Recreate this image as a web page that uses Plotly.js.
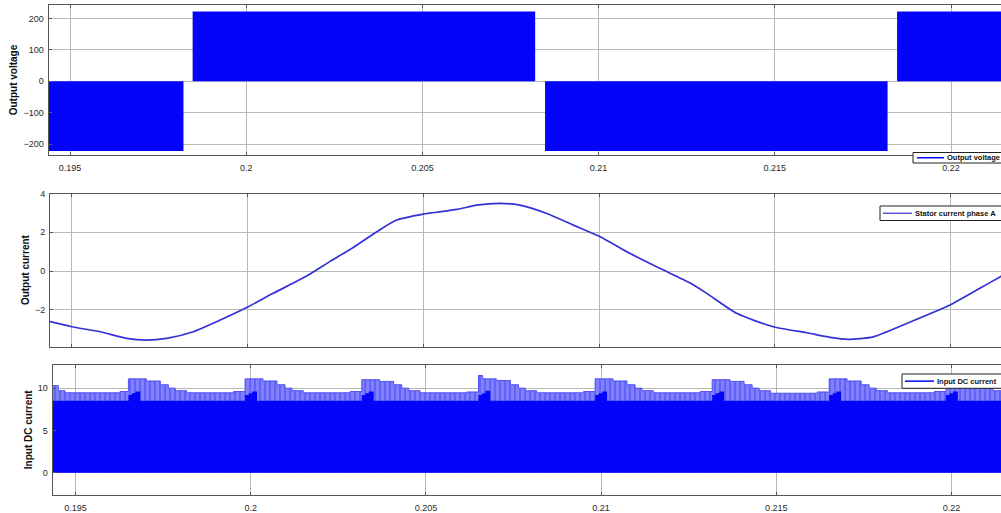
<!DOCTYPE html>
<html><head><meta charset="utf-8">
<script src="https://cdn.plot.ly/plotly-3.0.1.min.js"></script>
<style>html,body{margin:0;padding:0;overflow:hidden;background:#fff;width:1001px;height:513px}#chart{width:1008px;height:513px}</style>
</head><body><div id="chart"></div>
<script>
// ---------------- data ----------------
const seriesNames = ['Output voltage', 'Stator current phase A', 'Input DC current'];
const axisTitles = ['Output voltage', 'Output current', 'Input DC current'];
const timeTickVals = [0.195, 0.2, 0.205, 0.21, 0.215, 0.22];
const timeTickText = ['0.195', '0.2', '0.205', '0.21', '0.215', '0.22'];
const voltTickVals = [-200, -100, 0, 100, 200];
const currTickVals = [-2, 0, 2, 4];
const dcTickVals = [0, 5, 10];

// Output voltage: PWM blocks (level held until next time)
const voltTime  = [0.19439, 0.19822, 0.19848, 0.20820, 0.20848, 0.21820, 0.21847, 0.2217];
const voltValue = [-222, 0, 222, 0, -222, 0, 222, 222];

// Stator current phase A
const currTime = [0.19438, 0.19500, 0.19581, 0.19656, 0.19713, 0.19770, 0.19846, 0.19912,
  0.20002, 0.20073, 0.20168, 0.20235, 0.20301, 0.20368, 0.20424, 0.20500, 0.20595, 0.20652,
  0.20718, 0.20775, 0.20851, 0.20927, 0.21003, 0.21079, 0.21173, 0.21259, 0.21306, 0.21391,
  0.21495, 0.21590, 0.21657, 0.21709, 0.21780, 0.21875, 0.21998, 0.22083, 0.22140, 0.22163];
const currValue = [-2.61, -2.87, -3.13, -3.47, -3.56, -3.47, -3.13, -2.61,
  -1.84, -1.15, -0.26, 0.50, 1.22, 2.03, 2.63, 2.94, 3.18, 3.40,
  3.49, 3.40, 2.97, 2.37, 1.77, 0.99, 0.14, -0.62, -1.15, -2.18,
  -2.87, -3.18, -3.42, -3.52, -3.39, -2.70, -1.75, -0.89, -0.30, -0.05];

// Input DC current: upper envelope of the pulses (held until next time)
const dcPeakTime = [0.19434, 0.19451, 0.19470, 0.19627,
  0.19651, 0.19702, 0.19742, 0.19765, 0.19785, 0.19817, 0.19951,
  0.19984, 0.20035, 0.20075, 0.20098, 0.20118, 0.20150, 0.20284,
  0.20317, 0.20368, 0.20408, 0.20431, 0.20451, 0.20483, 0.20617,
  0.20650, 0.20662, 0.20701, 0.20741, 0.20764, 0.20784, 0.20816, 0.20950,
  0.20983, 0.21034, 0.21074, 0.21097, 0.21117, 0.21149, 0.21283,
  0.21317, 0.21368, 0.21408, 0.21431, 0.21451, 0.21483, 0.21617,
  0.21651, 0.21702, 0.21742, 0.21765, 0.21785, 0.21817, 0.21951,
  0.21984, 0.22035, 0.22075, 0.22098, 0.22118, 0.22150, 0.2217];
const dcPeakValue = [10.3, 9.7, 9.45, 9.6,
  11.1, 10.85, 10.4, 10.0, 9.7, 9.45, 9.6,
  11.1, 10.85, 10.4, 10.0, 9.7, 9.45, 9.6,
  11.0, 10.8, 10.4, 10.0, 9.7, 9.45, 9.55,
  11.5, 11.1, 10.9, 10.4, 10.0, 9.7, 9.45, 9.6,
  11.1, 10.85, 10.4, 10.0, 9.7, 9.45, 9.6,
  11.0, 10.8, 10.4, 10.0, 9.7, 9.4, 9.55,
  11.1, 10.85, 10.4, 10.0, 9.7, 9.45, 9.6,
  11.1, 10.85, 10.4, 10.0, 9.7, 9.45, 9.45];
// Input DC current: densely switched (solid) part
const dcBaseTime = [0.19434,
  0.19651, 0.19661, 0.19671, 0.19685,
  0.19984, 0.19994, 0.20004, 0.20018,
  0.20317, 0.20327, 0.20337, 0.20351,
  0.20650, 0.20660, 0.20670, 0.20684,
  0.20983, 0.20993, 0.21003, 0.21017,
  0.21317, 0.21327, 0.21337, 0.21351,
  0.21651, 0.21661, 0.21671, 0.21685,
  0.21984, 0.21994, 0.22004, 0.22018, 0.2217];
const dcBaseValue = [8.5,
  9.2, 9.4, 9.6, 8.5,
  9.2, 9.4, 9.6, 8.5,
  9.2, 9.4, 9.6, 8.5,
  9.2, 9.4, 9.7, 8.5,
  9.2, 9.4, 9.6, 8.5,
  9.2, 9.4, 9.6, 8.5,
  9.2, 9.4, 9.6, 8.5,
  9.2, 9.4, 9.6, 8.5, 8.5];

// ---------------- drawing ----------------
const W = 1008, H = 513, ML = 48;
const PX = x => (x - ML) / (W - ML);
const PY = y => 1 - y / H;

const BLUE = 'rgb(4,4,250)';
const traces = [
  { x: voltTime, y: voltValue, xaxis: 'x', yaxis: 'y', name: seriesNames[0], type: 'scatter',
    mode: 'lines', line: { shape: 'hv', width: 0, color: BLUE }, fill: 'tozeroy', fillcolor: BLUE,
    showlegend: false, hoverinfo: 'skip' },
  { x: currTime, y: currValue, xaxis: 'x2', yaxis: 'y2', name: seriesNames[1], type: 'scatter',
    mode: 'lines', line: { shape: 'spline', smoothing: 0.6, width: 1.7, color: 'rgb(50,50,215)' },
    showlegend: false },
  { x: dcPeakTime, y: dcPeakValue, xaxis: 'x3', yaxis: 'y3', name: seriesNames[2], type: 'scatter',
    mode: 'lines', line: { shape: 'hv', width: 1, color: 'rgb(80,80,245)' }, fill: 'tozeroy',
    fillcolor: 'rgb(125,125,253)',
    fillpattern: { shape: '|', size: 5, solidity: 0.2, fgcolor: 'rgb(70,70,240)', bgcolor: 'rgb(128,128,253)' },
    showlegend: false },
  { x: dcBaseTime, y: dcBaseValue, xaxis: 'x3', yaxis: 'y3', name: seriesNames[2] + ' (dense)', type: 'scatter',
    mode: 'lines', line: { shape: 'hv', width: 0, color: BLUE }, fill: 'tozeroy', fillcolor: BLUE,
    showlegend: false, hoverinfo: 'skip' }
];

const tickFont = { family: 'Liberation Sans, Arial, sans-serif', size: 9, color: '#2a2a2a' };
const titleFont = { family: 'Liberation Sans, Arial, sans-serif', size: 10, color: '#111', weight: 'bold' };
function xax(domainLeftPx, range, anchor, showLabels) {
  return { domain: [PX(domainLeftPx), 1], range: range, anchor: anchor,
    tickvals: timeTickVals, ticktext: timeTickText, showticklabels: showLabels,
    tickfont: tickFont, ticks: 'inside', ticklen: 3, tickcolor: '#555',
    showgrid: true, gridcolor: '#b8b8b8', gridwidth: 1, zeroline: false,
    showline: true, linecolor: '#555', linewidth: 1, mirror: 'ticks', ticklabelstandoff: 4 };
}
function yax(domain, range, tickvals, title, anchor) {
  return { domain: domain, range: range, anchor: anchor, tickvals: tickvals,
    tickfont: tickFont, ticks: 'inside', ticklen: 3, tickcolor: '#555',
    showgrid: true, gridcolor: '#b8b8b8', gridwidth: 1, zeroline: false,
    showline: true, linecolor: '#555', linewidth: 1, mirror: 'ticks', ticklabelstandoff: 2,
    title: { text: title, font: titleFont, standoff: 3 } };
}

const legendSpec = [
  { name: seriesNames[0], box: [913, 152.5, 163], line: [917, 944], textX: 946, color: BLUE },
  { name: seriesNames[1], box: [880, 206, 220.5], line: [883, 912], textX: 914, color: 'rgb(90,90,230)' },
  { name: seriesNames[2], box: [902, 374, 388.3], line: [905, 934], textX: 936, color: BLUE }
];
const shapes = [], annotations = [];
legendSpec.forEach(l => {
  const midY = (l.box[1] + l.box[2]) / 2;
  shapes.push({ type: 'rect', xref: 'paper', yref: 'paper', x0: PX(l.box[0]), x1: PX(1030),
    y0: PY(l.box[1]), y1: PY(l.box[2]), fillcolor: '#fff', line: { color: '#222', width: 1 }, layer: 'above' });
  shapes.push({ type: 'line', xref: 'paper', yref: 'paper', x0: PX(l.line[0]), x1: PX(l.line[1]),
    y0: PY(midY), y1: PY(midY), line: { color: l.color, width: 1.5 }, layer: 'above' });
  annotations.push({ xref: 'paper', yref: 'paper', x: PX(l.textX), y: PY(midY), xanchor: 'left', yanchor: 'middle',
    text: l.name, showarrow: false, borderpad: 0,
    font: { family: 'Liberation Sans, Arial, sans-serif', size: 7.5, color: '#111', weight: 'bold' } });
});

const layout = {
  width: W, height: H, margin: { l: ML, r: 0, t: 0, b: 0, autoexpand: false },
  paper_bgcolor: '#fff', plot_bgcolor: '#fff', showlegend: false,
  xaxis: xax(48.5, [0.19439, 0.221617], 'y', true),
  xaxis2: xax(50, [0.194383, 0.22163], 'y2', false),
  xaxis3: xax(52.5, [0.194344, 0.221612], 'y3', true),
  yaxis: yax([PY(155), PY(5)], [-235, 242.5], voltTickVals, axisTitles[0], 'x'),
  yaxis2: yax([PY(346.7), PY(193.5)], [-3.9, 4.0], currTickVals, axisTitles[1], 'x2'),
  yaxis3: yax([PY(495), PY(364.5)], [-2.64, 12.8], dcTickVals, axisTitles[2], 'x3'),
  shapes: shapes, annotations: annotations
};

Plotly.newPlot('chart', traces, layout, { displayModeBar: false, staticPlot: true });
</script>
</body></html>
